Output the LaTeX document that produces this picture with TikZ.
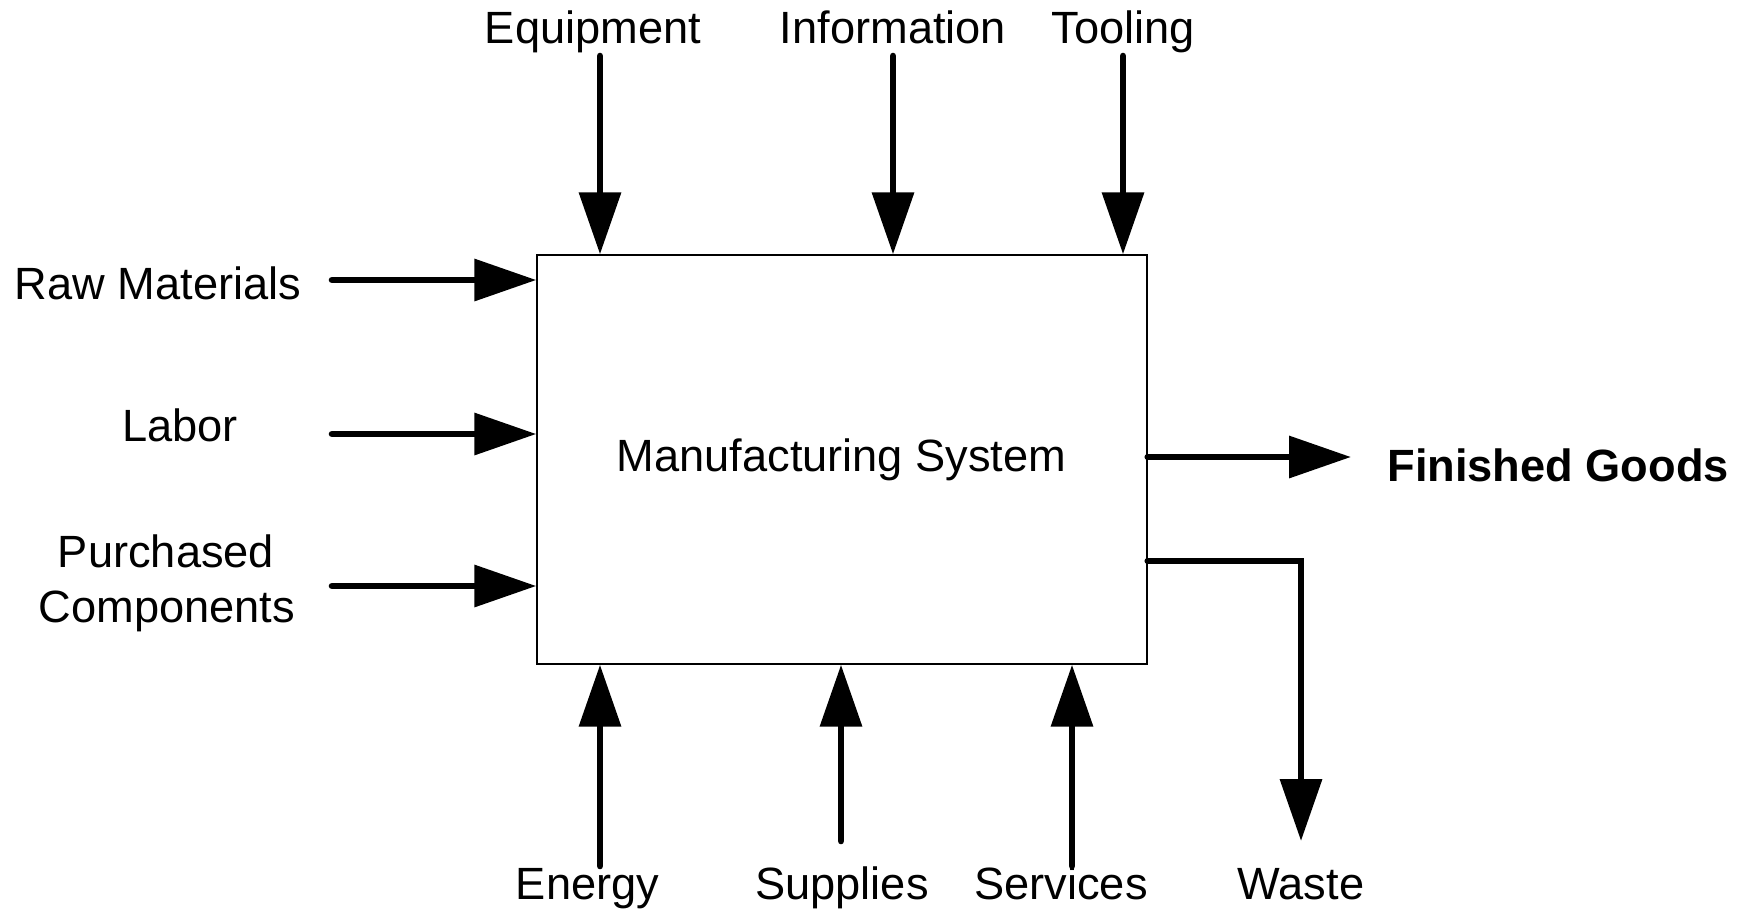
\documentclass[tikz,border=0pt]{standalone}
\usepackage{fontspec}
\setmainfont{Liberation Sans}
\usetikzlibrary{arrows.meta}
\tikzset{
	% Styles for the system box, the flows and their labels
	system box/.style={draw,line width=0.7pt,minimum width=305pt,minimum height=204.5pt,inner sep=0},
	flow/.style={line width=3.3pt,line cap=round,-{Triangle[length=31pt,width=20.5pt]}},
	flow label/.style={inner sep=0,anchor=base,font=\fontsize{22.6}{27.5}\selectfont}
}

\begin{document}
\begin{tikzpicture}[x=0.5pt,y=-0.5pt]
			\useasboundingbox (0,0) rectangle (1743,911);
			% The system itself
			\node(sys)[system box] at (842,459.5){};
			\node(sysname)[flow label] at (841.5,471){Manufacturing System};
			
			% Labels above, left, right and below
			\node(equip)[flow label] at (593,43){Equipment};
			\node(info)[flow label] at (893,43){Information};
			\node(tool)[flow label] at (1123,43){Tooling};
			\node(raw)[flow label] at (158,299){Raw Materials};
			\node(labor)[flow label] at (180,441){Labor};
			\node(purch)[flow label] at (166,567){Purchased};
			\node(comp)[flow label] at (167,622){Components};
			\node(goods)[flow label,anchor=base west,font=\fontsize{22.6}{27.5}\selectfont\bfseries] at (1387,481){Finished Goods};
			\node(energy)[flow label] at (587.5,899){Energy};
			\node(suppl)[flow label] at (842,899){Supplies};
			\node(serv)[flow label] at (1061,899){Services};
			\node(waste)[flow label] at (1301,899){Waste};
			
			% Free ends of the flows
			\coordinate(equipTail) at (600,56);
			\coordinate(infoTail) at (893,56);
			\coordinate(toolTail) at (1123,56);
			\coordinate(rawTail) at (332,280);
			\coordinate(laborTail) at (332,434);
			\coordinate(compTail) at (332,586);
			\coordinate(energyTail) at (600,866);
			\coordinate(supplTail) at (841,841);
			\coordinate(servTail) at (1072,866);
			\coordinate(goodsTip) at (1351,457);
			\coordinate(wasteBend) at (1301,561);
			\coordinate(wasteTip) at (1301,841);
			
			% Flows into and out of the system
			\draw[flow] (equipTail) -- (equipTail |- sys.north);
			\draw[flow] (infoTail) -- (infoTail |- sys.north);
			\draw[flow] (toolTail) -- (toolTail |- sys.north);
			\draw[flow] (rawTail) -- (rawTail -| sys.west);
			\draw[flow] (laborTail) -- (laborTail -| sys.west);
			\draw[flow] (compTail) -- (compTail -| sys.west);
			\draw[flow] (energyTail) -- (energyTail |- sys.south);
			\draw[flow] (supplTail) -- (supplTail |- sys.south);
			\draw[flow] (servTail) -- (servTail |- sys.south);
			\draw[flow] (goodsTip -| sys.east) -- (goodsTip);
			\draw[flow] (wasteBend -| sys.east) -- (wasteBend) -- (wasteTip);
		\end{tikzpicture}
\end{document}
